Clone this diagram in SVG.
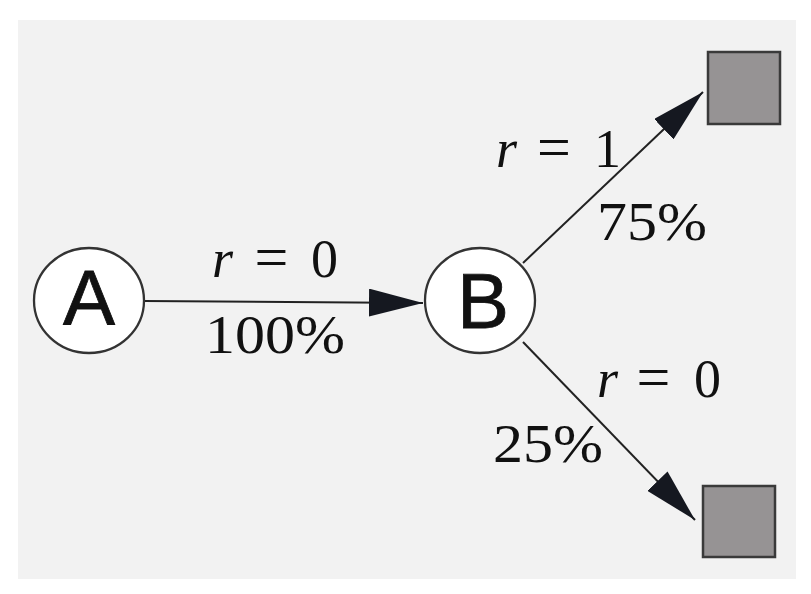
<svg xmlns="http://www.w3.org/2000/svg" width="811" height="594" viewBox="0 0 811 594">
<defs>
<style>
.bg{fill:#f2f2f2}
.node{fill:#ffffff;stroke:#333333;stroke-width:2.3}
.term{fill:#969394;stroke:#3a3a3a;stroke-width:2.5}
.nl{font-family:"Liberation Sans",Arial,sans-serif;font-size:78px;fill:#111111;text-anchor:middle;stroke:#111111;stroke-width:0.8}
.edge{stroke:#222222;stroke-width:2;fill:none;marker-end:url(#ah)}
.r{font-family:"Liberation Serif","Times New Roman",serif;font-size:54px;fill:#111111}
.r .v{font-style:italic}
.r .eq{font-size:60px}
.p{font-family:"Liberation Serif","Times New Roman",serif;font-size:55px;fill:#111111}
</style>
<marker id="ah" viewBox="0 0 54 28" markerWidth="54" markerHeight="28" refX="54" refY="14" orient="auto" markerUnits="userSpaceOnUse">
<path d="M0,0 L54,14 L0,28 z" fill="#151820"/>
</marker>
</defs>
<rect class="bg" x="18" y="20" width="778" height="559"/>
<g id="connectors">
<line class="edge" x1="144" y1="301" x2="423" y2="303"/>
<line class="edge" x1="523" y1="263" x2="703" y2="92"/>
<line class="edge" x1="523" y1="342" x2="695" y2="520"/>
</g>
<g id="edge-labels">
<text class="r"><tspan class="v" x="212" y="277">r</tspan> <tspan class="eq" x="254.6" y="277">=</tspan> <tspan x="311" y="277">0</tspan></text>
<text class="p" x="205" y="353" textLength="140" lengthAdjust="spacingAndGlyphs">100%</text>
<text class="r"><tspan class="v" x="496" y="167">r</tspan> <tspan class="eq" x="537" y="167">=</tspan> <tspan x="594" y="167">1</tspan></text>
<text class="p" x="597" y="240" textLength="110" lengthAdjust="spacingAndGlyphs">75%</text>
<text class="r"><tspan class="v" x="597" y="397">r</tspan> <tspan class="eq" x="636.6" y="397">=</tspan> <tspan x="694" y="397">0</tspan></text>
<text class="p" x="493" y="462" textLength="110" lengthAdjust="spacingAndGlyphs">25%</text>
</g>
<g id="node-A">
<ellipse class="node" cx="89" cy="300.5" rx="55" ry="52.5"/>
<text class="nl" x="89" y="325">A</text>
</g>
<g id="node-B">
<ellipse class="node" cx="480" cy="300.5" rx="55" ry="52.5"/>
<text class="nl" x="483" y="328">B</text>
</g>
<g id="terminal-top">
<rect class="term" x="708" y="52" width="72" height="72"/>
</g>
<g id="terminal-bottom">
<rect class="term" x="703" y="486" width="72" height="71"/>
</g>
</svg>
